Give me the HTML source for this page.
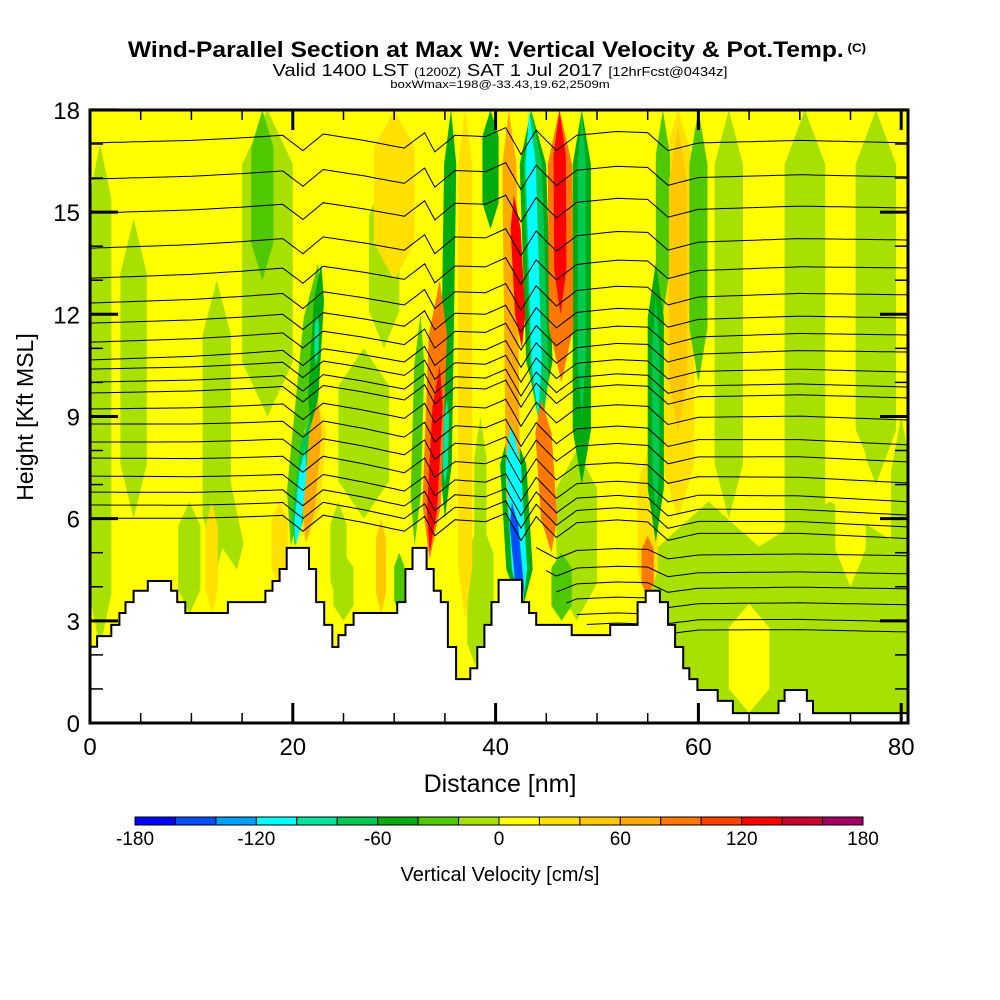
<!DOCTYPE html>
<html><head><meta charset="utf-8"><style>
html,body{margin:0;padding:0;background:#fff;}
svg{display:block;font-family:"Liberation Sans",sans-serif;}
</style></head><body>
<svg id="chart" width="1000" height="1000" viewBox="0 0 1000 1000">
<defs><clipPath id="plotclip"><rect x="90" y="110" width="818" height="613"/></clipPath></defs>
<text x="497" y="57" text-anchor="middle" font-size="22" font-weight="bold" transform="translate(497 0) scale(1.12 1) translate(-497 0)">Wind-Parallel Section at Max W: Vertical Velocity &amp; Pot.Temp.<tspan font-size="12" dy="-5"> (C)</tspan></text>
<text x="500" y="76" text-anchor="middle" font-size="18" transform="translate(500 0) scale(1.12 1) translate(-500 0)">Valid 1400 LST <tspan font-size="12">(1200Z)</tspan> SAT 1 Jul 2017 <tspan font-size="13">[12hrFcst@0434z]</tspan></text>
<text x="500" y="88" text-anchor="middle" font-size="11" transform="translate(500 0) scale(1.2 1) translate(-500 0)">boxWmax=198@-33.43,19.62,2509m</text>
<rect x="90" y="110" width="818" height="613" fill="#ffff00"/>
<g id="field" clip-path="url(#plotclip)"></g>
<g id="contours" clip-path="url(#plotclip)" fill="none" stroke="#000" stroke-width="1"></g>
<g id="terrain" clip-path="url(#plotclip)"></g>
<rect x="90" y="110" width="818" height="613" fill="none" stroke="#000" stroke-width="3"/>
<g id="axes"></g>
<text x="500" y="792" text-anchor="middle" font-size="25">Distance [nm]</text>
<text transform="translate(33 417) rotate(-90)" text-anchor="middle" font-size="23">Height [Kft MSL]</text>
<g id="colorbar"></g>
<text x="500" y="881" text-anchor="middle" font-size="20">Vertical Velocity [cm/s]</text>
</svg>
<script>
// ---- data ----
const colorLevels = [-180,-160,-140,-120,-100,-80,-60,-40,-20,0,20,40,60,80,100,120,140,160,180];
const colorHex = ["#0000ff","#0050ff","#00a0ff","#00ffff","#00e6a0","#00c850","#00aa10","#50c800","#a8e000","#ffff00","#ffe000","#ffc800","#ffaa00","#ff7800","#ff4000","#ff0000","#c80030","#a00060"];
const xTicks = [0,20,40,60,80];
const yTicks = [0,3,6,9,12,15,18];
const cbTicks = [-180,-120,-60,0,60,120,180];
// velocity features: bottom x (nm), top x (nm), bottom y, top y (kft), half-width (nm), value (cm/s)
const featX0 = [1.0,4.3,12.5,14.5,17.5,17,9.8,12,18.7,24.5,28.7,30.5,38.5,27,29,30,25,
  19.8,20.2,20.3,21.8,22.3,21.3,21.3,
  32.0,33.5,33.5,35,35.0,37,39.5,38.5,41.8,42.6,44.5,44.5,44.2,42.6,42.6,42.6,45.5,46.5,46.4,48.5,48.5,46.5,48,
  55,55,55.8,55.8,58,58,56.5,60,63,70.5,77.5,80,61,73,65,75];
const featX1 = [1.0,4.3,12.5,12.0,17.5,17,9.8,12,18.7,24.5,28.7,30.5,38.5,27,29,30,25,
  22.5,21.7,21.2,22.8,22.4,22.5,22.5,
  32.6,34.5,34.5,35.6,35.2,37,39.5,38.5,41.3,41.8,43.5,43.5,43.3,41.5,41.5,41.6,44.5,46.3,46.3,48.5,48.5,46.5,48,
  55,55,55.8,55.8,58,58,56.5,60,63,70.5,77.5,80,61,73,65,75];
const featY0 = [2.2,6,4.5,4.5,9,13,3.2,3.2,4,3.5,3.2,3.2,1.3,6,11,13,3,
  5.2,5.2,5.2,8.5,10.5,5.3,5.3,
  5.2,4.8,5.0,6,7,3,14.5,3.5,5,11,9,8.5,9,3.3,3.3,3.3,5,10,12,7,9,3,3,
  3.5,3.7,5.3,6,6,8.5,12,10,6,2,7,0,-3,-3,0.3,4];
const featY1 = [17,14.8,13,8,18,18,6.5,6.5,6.5,6.5,6,5,6,11,16,18,5,
  13.5,9,8,13.5,12,9.5,9.5,
  12,13,10.5,18,9.5,18,18,9,18,15.5,18,18,18,8.8,8.8,6.5,9.5,18,18,18,18,5,8,
  8,5.5,13.5,12.5,18,17.5,18,18,18,18,18,9,6.5,6.5,3.5,9];
const featW = [1.1,1.3,1.4,1.2,2.5,1.1,1.1,0.6,0.8,0.8,0.5,0.5,1.3,2.5,1.5,2,1,
  0.9,0.6,0.35,0.5,0.2,1.1,0.6,
  0.5,0.9,0.5,0.6,0.25,0.7,0.8,0.6,0.7,0.5,1.3,0.9,0.5,1.3,0.75,0.42,0.8,1.2,0.6,0.9,0.4,1,2,
  1,0.6,0.8,0.35,1.6,0.9,0.7,0.9,1.4,2,2,1,6,8.5,2,1.5];
const featV = [-10,-10,-10,-10,-10,-30,-10,30,30,-10,40,-40,-10,-10,-10,30,-10,
  -30,-70,-110,-60,-90,30,70,
  -40,80,130,-50,-90,30,-50,-10,70,125,-50,-70,-110,-50,-110,-150,80,80,130,-50,-70,-40,-10,
  30,90,-50,-70,30,50,-40,-30,-10,-10,-10,-10,-10,-10,10,10];
// potential temperature contours: height at left / right edges (kft), start x (nm)
const thetaLeft = [17.03,15.97,14.97,13.94,13.06,12.33,11.74,11.18,10.66,10.39,10.01,9.69,9.22,8.78,8.25,7.78,7.25,6.78,6.40,6.01,5.0,4.5,4.0,3.6,3.2,2.9];
const thetaRight = [17.03,16.03,15.12,14.18,13.36,12.57,11.89,11.39,10.89,10.30,9.86,9.54,8.89,8.16,7.66,7.04,6.49,6.10,5.75,5.41,4.91,4.38,3.94,3.47,2.97,2.67];
const thetaStart = [0,0,0,0,0,0,0,0,0,0,0,0,0,0,0,0,0,0,0,0,44,45,46,47,48,49];
const dispNodes = [0,10,15,19,21,23,27,31,33,34,36,39,41,42.5,44,46,48,52,55,57,60,70,81];
const dispVals = [0,0.1,0.2,0.3,-0.3,0.35,0.1,-0.2,0.4,-0.35,0.3,0.25,0.6,-0.45,0.5,-0.3,0.3,0.45,0.4,-0.3,0,0.1,0];
// terrain: segment edges (nm) and heights (kft)
const terrEdges = [0,0.7,2.1,2.9,3.5,4.3,5.7,8.0,8.6,9.4,13.6,17.3,18.0,18.7,19.4,21.6,22.3,23.1,23.9,24.5,25.2,26.0,30.3,31.1,31.8,33.2,33.9,34.6,35.3,36.1,37.5,38.2,38.9,39.6,40.3,42.6,43.3,44.0,47.5,51.3,54.0,54.8,56.2,57.0,57.7,58.5,59.1,59.9,61.9,63.4,67.9,68.5,70.7,71.3,81];
const terrH = [2.24,2.55,2.88,3.23,3.55,3.88,4.17,3.88,3.55,3.23,3.55,3.88,4.17,4.52,5.14,4.52,3.55,2.88,2.23,2.58,2.88,3.23,3.55,4.52,5.14,4.52,3.88,3.55,2.23,1.29,1.61,2.23,2.88,3.55,4.2,3.55,3.23,2.88,2.58,2.88,3.55,3.88,3.55,2.88,2.23,1.61,1.29,0.97,0.65,0.29,0.65,0.97,0.65,0.29];

// ---- scales ----
const NS="http://www.w3.org/2000/svg";
function X(nm){return 90+nm*10.14;}
function Y(k){return 723-k*34.06;}
function colorFor(v){let i=Math.floor((v+180)/20);i=Math.max(0,Math.min(17,i));return colorHex[i];}
function mk(tag,attrs,parent){const e=document.createElementNS(NS,tag);for(const k in attrs)e.setAttribute(k,attrs[k]);parent.appendChild(e);return e;}

// ---- field ----
const field=document.getElementById('field');
const order=featV.map((v,i)=>i).sort((a,b)=>Math.abs(featV[a])-Math.abs(featV[b]));
order.forEach(i=>{
  const x0=featX0[i],x1=featX1[i],y0=featY0[i],y1=featY1[i],w=featW[i];
  const t=Math.min(1.6,(y1-y0)*0.22);
  const fx=(y)=>x0+(x1-x0)*(y-y0)/(y1-y0);
  const pts=[[fx(y0),y0],[fx(y0+t)+w,y0+t],[fx(y1-t)+w,y1-t],[fx(y1),y1],[fx(y1-t)-w,y1-t],[fx(y0+t)-w,y0+t]];
  const p=mk('polygon',{points:pts.map(q=>X(q[0]).toFixed(1)+','+Y(q[1]).toFixed(1)).join(' '),fill:colorFor(featV[i])},field);
  
  
});

// ---- contours ----
const cg=document.getElementById('contours');
function disp(x){for(let j=0;j<dispNodes.length-1;j++){if(x<=dispNodes[j+1]){const f=(x-dispNodes[j])/(dispNodes[j+1]-dispNodes[j]);return dispVals[j]+f*(dispVals[j+1]-dispVals[j]);}}return 0;}
thetaLeft.forEach((hl,k)=>{
  const hr=thetaRight[k];let d='';
  for(let x=thetaStart[k];x<=81.01;x+=0.5){
    const h=hl+(hr-hl)*x/81+disp(x)*(k<20?0.75:0.4);
    d+=(d?'L':'M')+X(x).toFixed(1)+','+Y(h).toFixed(1);
  }
  const p=mk('path',{d:d},cg);
  
  
});

// ---- terrain ----
const tg=document.getElementById('terrain');
let td='M'+X(0)+','+Y(0);
for(let i=0;i<terrH.length;i++){td+='L'+X(terrEdges[i]).toFixed(1)+','+Y(terrH[i]).toFixed(1)+'L'+X(terrEdges[i+1]).toFixed(1)+','+Y(terrH[i]).toFixed(1);}
td+='L'+X(81)+','+Y(0)+'Z';
const tp=mk('path',{d:td,fill:'#fff',stroke:'#000','stroke-width':2},tg);



// ---- axes ----
const ax=document.getElementById('axes');
for(let n=0;n<=80;n+=5){
  const major=n%20===0,L=major?20:10;
  mk('line',{x1:X(n),y1:723,x2:X(n),y2:723-L,stroke:'#000','stroke-width':major?3:1.5},ax);
  mk('line',{x1:X(n),y1:110,x2:X(n),y2:110+L,stroke:'#000','stroke-width':major?3:1.5},ax);
}
for(let k=0;k<=18;k++){
  const major=k%3===0,L=major?28:13;
  mk('line',{x1:90,y1:Y(k),x2:90+L,y2:Y(k),stroke:'#000','stroke-width':major?3:1.5},ax);
  mk('line',{x1:908,y1:Y(k),x2:908-L,y2:Y(k),stroke:'#000','stroke-width':major?3:1.5},ax);
}
xTicks.forEach(v=>{
  const t=mk('text',{x:X(v),y:755,'text-anchor':'middle','font-size':24},ax);
  t.textContent=v;
  
  
});
yTicks.forEach(v=>{
  const t=mk('text',{x:80,y:Y(v)+9,'text-anchor':'end','font-size':24},ax);
  t.textContent=v;
  
  
});

// ---- colorbar ----
const cb=document.getElementById('colorbar');
const cbx0=135,cbx1=863,cbw=(cbx1-cbx0)/colorHex.length;
colorHex.forEach((c,i)=>{
  const r=mk('rect',{x:cbx0+i*cbw,y:817,width:cbw,height:8,fill:c,stroke:'#000','stroke-width':1},cb);
  
  
});
cbTicks.forEach(v=>{
  const t=mk('text',{x:cbx0+(v+180)/360*(cbx1-cbx0),y:845,'text-anchor':'middle','font-size':19},cb);
  t.textContent=v;
  
  
});
</script>
</body></html>
